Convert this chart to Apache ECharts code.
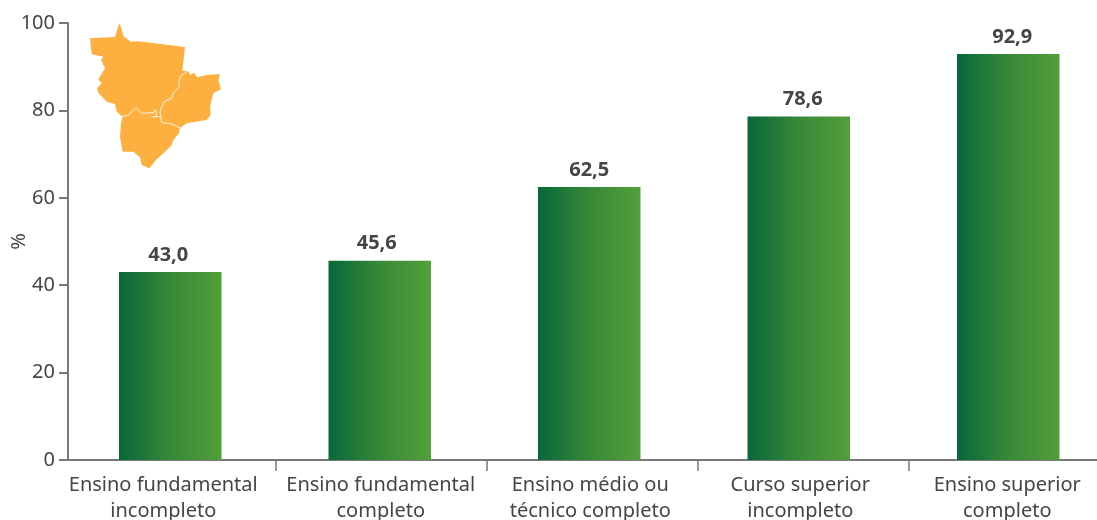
<!DOCTYPE html>
<html><head><meta charset="utf-8">
<style>html,body{margin:0;padding:0;background:#fff}#c{width:1097px;height:520px}</style>
<script src="https://cdn.jsdelivr.net/npm/echarts@6/dist/echarts.min.js"></script>
</head><body><div id="c"></div>
<script>
const categories = ['Ensino fundamental\nincompleto','Ensino fundamental\ncompleto','Ensino médio ou\ntécnico completo','Curso superior\nincompleto','Ensino superior\ncompleto'];
const values = [43.0,45.6,62.5,78.6,92.9];
const yTicks = [0,20,40,60,80,100];
const separatorTicks = [1,2,3,4];
const labelShift = [-7,1,1,1.5,-1];
const valueLabelShift = [-2,-3,0,4,4];
const FONT = '"Noto Sans", sans-serif';
const TXT = '#454545', AX = '#77787b';
const mapOutline = [[270,115],[345,111],[350,95],[357,70],[364,85],[370,108],[392,125],[415,124],[555,141],[550,185],[547,212],[565,213],[570,225],[582,218],[592,232],[620,225],[660,222],[655,240],[663,268],[640,280],[630,320],[632,345],[620,360],[560,370],[540,384],[537,400],[520,420],[515,435],[495,455],[468,480],[448,505],[425,495],[420,472],[400,455],[368,455],[360,410],[363,370],[368,350],[350,335],[345,312],[320,305],[295,278],[291,265],[305,250],[295,238],[315,205],[303,180],[310,170],[275,163]];
const borderA = [[565,213],[545,225],[537,240],[538,260],[520,280],[515,295],[492,305],[480,335],[485,368],[515,372],[540,384]];
const borderB = [[368,350],[385,345],[408,322],[425,340],[460,338],[467,328],[470,350],[458,350],[482,350]];
const chart = echarts.init(document.getElementById('c'),null,{renderer:'canvas'});
const line = p => ({type:'polyline',shape:{points:p},style:{fill:null,stroke:'#fff',lineWidth:2.5}});
chart.setOption({
  animation:false,
  grid:[{left:65.5,top:23,width:1047.5,height:437,outerBoundsMode:'none'},{left:68,top:23,width:1051,height:437,outerBoundsMode:'none'}],
  xAxis:[
    {type:'category',gridIndex:0,data:categories,axisLine:{show:false},axisTick:{show:false},
     axisLabel:{margin:12,interval:0,
       formatter:(v,i)=>v.split('\n').map(l=>`{t${i}|${l}}`).join('\n'),
       rich:Object.fromEntries(labelShift.map((s,i)=>[`t${i}`,{fontFamily:FONT,fontSize:20,color:TXT,lineHeight:26,padding:[0,Math.max(-2*s,0),0,Math.max(2*s,0)]}]))}},
    {type:'value',gridIndex:1,min:0.015,max:4.996,axisLine:{show:true,onZero:false,lineStyle:{color:AX,width:2}},
     axisTick:{show:true,length:11,customValues:separatorTicks,lineStyle:{color:AX,width:1.5}},
     axisLabel:{show:false},splitLine:{show:false}}
  ],
  yAxis:[
    {type:'value',gridIndex:0,min:0,max:100,show:false},
    {type:'value',gridIndex:1,min:0,max:100,interval:20,
     name:'%',nameLocation:'middle',nameGap:39,nameRotate:90,nameMoveOverlap:false,nameTextStyle:{fontFamily:FONT,fontSize:20,color:TXT},
     axisLine:{show:true,lineStyle:{color:AX,width:2}},axisTick:{show:true,length:9,lineStyle:{color:AX,width:2}},
     axisLabel:{margin:13,fontFamily:FONT,fontSize:20,color:TXT,customValues:yTicks},splitLine:{show:false}}
  ],
  series:[{type:'bar',xAxisIndex:0,yAxisIndex:0,barWidth:102.5,z:1,
    data:values.map((v,i)=>({value:v,label:{offset:[valueLabelShift[i],0]}})),
    itemStyle:{color:new echarts.graphic.LinearGradient(0,0,1,0,[{offset:0,color:'#06683a'},{offset:.5,color:'#398838'},{offset:1,color:'#539f3b'}])},
    label:{show:true,position:'top',distance:7,fontFamily:FONT,fontSize:20,fontWeight:'bold',color:TXT,formatter:p=>p.value.toFixed(1).replace('.',',')}}],
  graphic:[{type:'group',left:0,top:0,scaleX:1/3,scaleY:1/3,bounding:'raw',children:[
    {type:'polygon',shape:{points:mapOutline},style:{fill:'#fdb040'}},line(borderA),line(borderB)]}]
});
</script></body></html>
